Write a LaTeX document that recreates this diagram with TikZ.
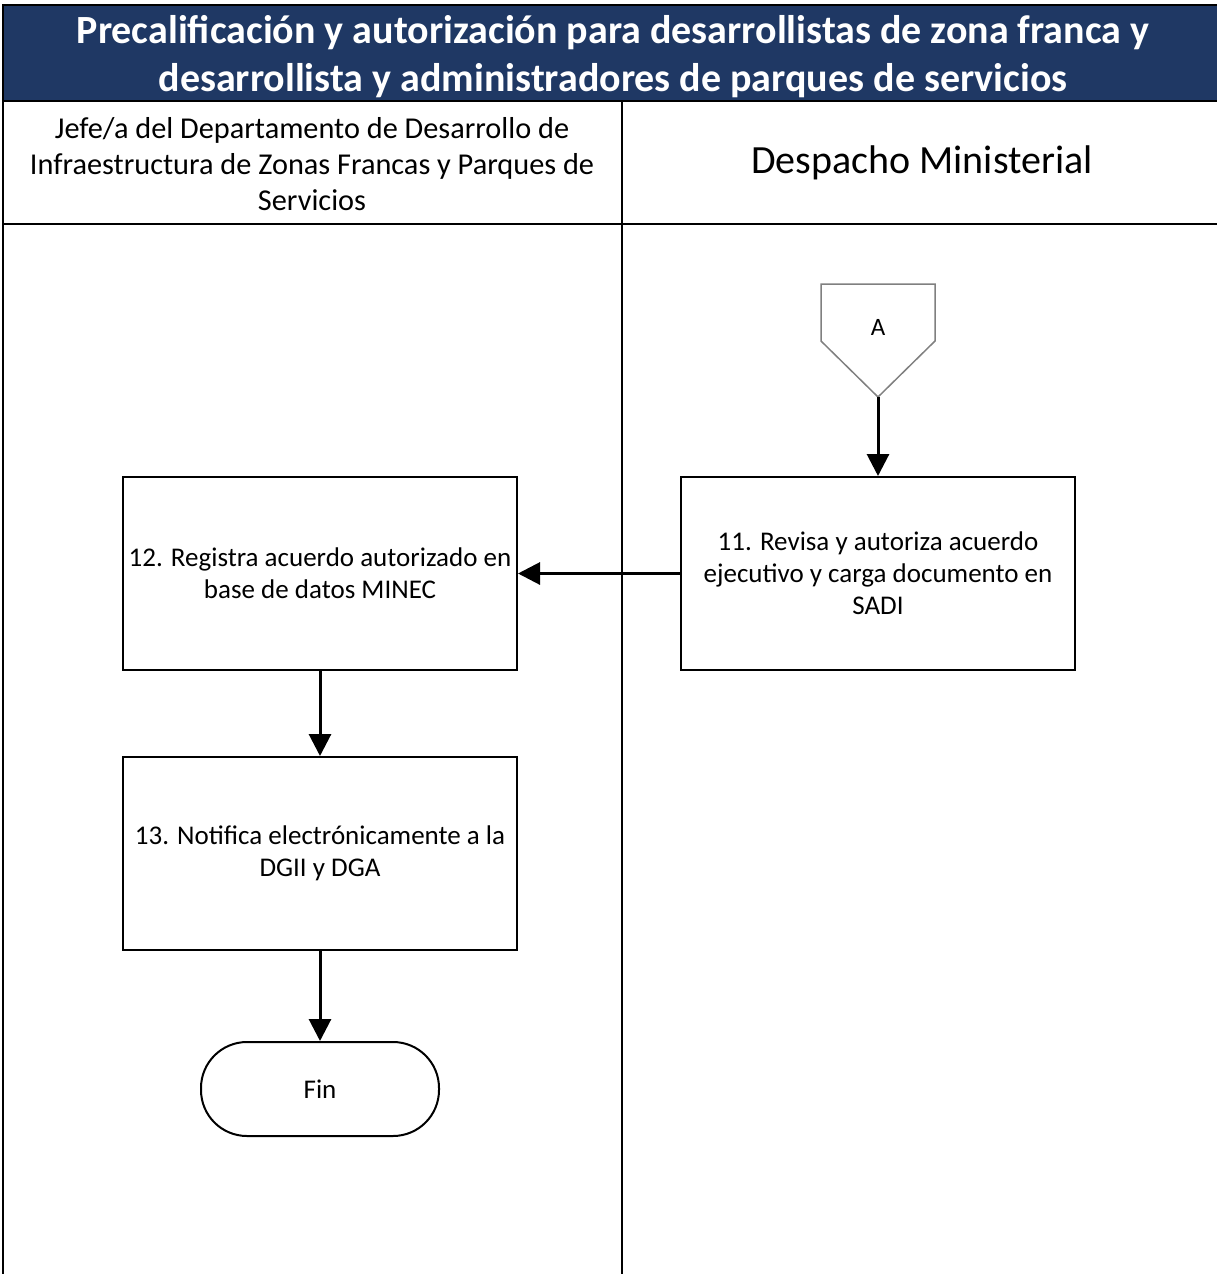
\documentclass[tikz,border=0pt]{standalone}
\usepackage{fontspec}
\setmainfont{Carlito}
\usetikzlibrary{positioning,arrows.meta}
\definecolor{titleblue}{RGB}{31,56,100}

\begin{document}
\begin{tikzpicture}[%
		x=1pt,
		y=-1pt,
		>={Triangle[length=22pt,width=22pt]},
		node distance=85pt,
		lane/.style={%
			line width=2pt
		},
		task/.style={%
			draw,
			line width=2pt,
			minimum width=394pt,
			minimum height=193pt,
			align=center,
			font=\fontsize{27}{32}\selectfont
		},
		terminal/.style={%
			draw,
			line width=2pt,
			rounded corners=46pt,
			minimum width=238pt,
			minimum height=94pt,
			font=\fontsize{27}{32}\selectfont
		},
		offpage/.style={%
			draw=gray,
			line width=1.5pt
		},
		flow/.style={%
			->,
			line width=3pt
		}
		]
		\useasboundingbox (0,0) rectangle (1216,1274);
		
		\fill[titleblue] (3,5) rectangle (1220,101);
		\draw[lane] (1220,5) -- (3,5) -- (3,1274);
		\draw[lane] (3,101) -- (1220,101);
		\draw[lane] (3,224) -- (1220,224);
		\draw[lane] (622,101) -- (622,1274);
		
		\node[text=white, align=center, font=\bfseries\fontsize{40}{48}\selectfont] (title) at (613,57)
			{Precalificación y autorización para desarrollistas de zona franca y\\desarrollista y administradores de parques de servicios};
		\node[align=center, font=\fontsize{30.3}{36}\selectfont] (jefe) at (312,164)
			{Jefe/a del Departamento de Desarrollo de\\Infraestructura de Zonas Francas y Parques de\\Servicios};
		\node[font=\fontsize{40}{44}\selectfont] (despacho) at (922,163) {Despacho Ministerial};
		
		\node[font=\fontsize{25}{30}\selectfont] (A) at (878,327) {A};
		\coordinate (Atip) at (878,397);
		\draw[offpage] (Atip) -- (821,341) -- (821,284) -- (935,284) -- (935,341) -- cycle;
		
		\node[task] (11) at (878,573.5)                               {11. Revisa y autoriza acuerdo\\ejecutivo y carga documento en\\SADI};
		\node[task] (12) [left=162pt of 11]                           {12. Registra acuerdo autorizado en\\base de datos MINEC};
		\node[task] (13) [below=of 12]                                {13. Notifica electrónicamente a la\\DGII y DGA};
		\node[terminal] (fin) [below=90pt of 13]                      {Fin};
		
		\draw[flow] (Atip) -- (11);
		\draw[flow] (11) -- (12);
		\draw[flow] (12) -- (13);
		\draw[flow] (13) -- (fin);
		\end{tikzpicture}
\end{document}
